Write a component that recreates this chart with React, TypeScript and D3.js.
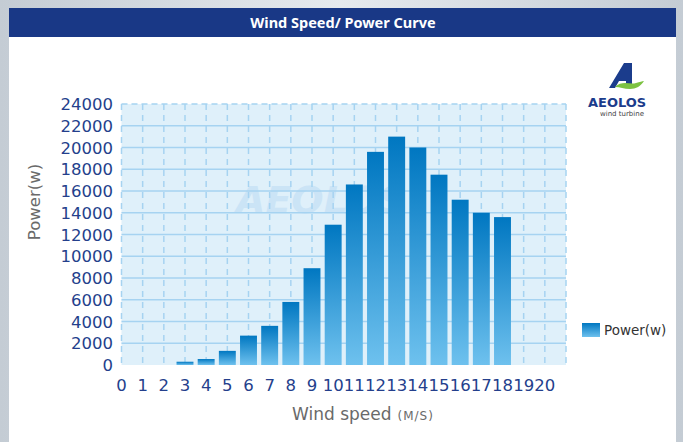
import React from 'react';
import * as d3 from 'd3';

// wind speed categories (m/s) and rated power output (w)
const speeds = [0, 1, 2, 3, 4, 5, 6, 7, 8, 9, 10, 11, 12, 13, 14, 15, 16, 17, 18, 19, 20];
const power = [0, 0, 0, 300, 550, 1300, 2700, 3600, 5800, 8900, 12900, 16600, 19600, 21000, 20000, 17500, 15200, 14000, 13600, 0, 0];
const yTicks = [0, 2000, 4000, 6000, 8000, 10000, 12000, 14000, 16000, 18000, 20000, 22000, 24000];

const W = 683;
const H = 442;
const FONT = '"DejaVu Sans", Verdana, sans-serif';

export default function App() {
  const x = d3.scaleLinear().domain([0, 21]).range([121.5, 566]);
  const y = d3.scaleLinear().domain([0, 24000]).range([365, 104]);
  const barW = (x(1) - x(0)) * 0.8;
  const gridX = d3.range(0, 22);
  const [x0, x1] = x.range();
  const [yb, yt] = y.range();

  return (
    <svg width={W} height={H} style={{ display: 'block', position: 'absolute', left: 0, top: 0 }}>
      <defs>
        <linearGradient id="frame" x1="0" y1="0" x2="1" y2="0">
          <stop offset="0" stopColor="#c4ccd4" />
          <stop offset="0.5" stopColor="#e6eaee" />
          <stop offset="1" stopColor="#c4ccd4" />
        </linearGradient>
        <linearGradient id="bar" x1="0" y1="0" x2="0" y2="1">
          <stop offset="0" stopColor="#0077c1" />
          <stop offset="1" stopColor="#6ec1ee" />
        </linearGradient>
      </defs>

      {/* frame + panel */}
      <rect x={0} y={0} width={W} height={H} fill="url(#frame)" />
      <rect x={9} y={8} width={667} height={H - 8} fill="#ffffff" />
      <rect x={9} y={8} width={667} height={29} fill="#193886" />
      <text x={343} y={28} textAnchor="middle" fill="#ffffff" fontFamily='"Noto Sans", sans-serif'
        fontWeight="bold" fontSize={14.5}>Wind Speed/ Power Curve</text>

      {/* logo */}
      <g>
        <polygon points="609,88 624,63 632,63 632,88 626,88 626,81 619,81 615,88" fill="#1b3c8c" />
        <path d="M615,87 C622,80 630,85 636,83 C640,82 642,81 644,81 C641,86 636,89 630,89 C624,89 620,87 615,87 Z" fill="#7cc242" />
        <text x={588} y={107} fill="#1b3c8c" fontFamily={FONT} fontWeight="bold" fontSize={13}>AEOLOS</text>
        <text x={600} y={116} fill="#444" fontFamily={FONT} fontSize={7}>wind turbine</text>
      </g>

      {/* plot area */}
      <rect x={x0} y={yt} width={x1 - x0} height={yb - yt} fill="#dff0fa" />
      <text x={236} y={213} fill="#cbe4f6" fontFamily={FONT} fontWeight="bold" fontStyle="italic"
        fontSize={38}>AEOLOS</text>
      {yTicks.slice(1, -1).map(t => (
        <line key={'h' + t} x1={x0} x2={x1} y1={y(t)} y2={y(t)} stroke="#a6d3f1" strokeWidth={1.5} />
      ))}
      <line x1={x0} x2={x1} y1={yt} y2={yt} stroke="#a6d3f1" strokeWidth={1.5} strokeDasharray="6,4" />
      {gridX.map(v => (
        <line key={'v' + v} x1={x(v)} x2={x(v)} y1={yt} y2={yb} stroke="#a6d3f1" strokeWidth={1.5}
          strokeDasharray="6,5" />
      ))}

      {/* bars */}
      {speeds.map((s, i) => power[i] > 0 && (
        <rect key={'b' + s} x={x(s) - barW / 2} y={y(power[i])} width={barW} height={yb - y(power[i])}
          fill="url(#bar)" />
      ))}

      {/* y axis labels */}
      {yTicks.map(t => (
        <text key={'yl' + t} x={113} y={y(t) + 6} textAnchor="end" fill="#243f8c" fontFamily={FONT}
          fontSize={16.5}>{t}</text>
      ))}
      {/* x axis labels */}
      {speeds.map(s => (
        <text key={'xl' + s} x={x(s)} y={391} textAnchor="middle" fill="#243f8c" fontFamily={FONT}
          fontSize={16.5}>{s}</text>
      ))}

      {/* axis titles */}
      <text transform="translate(40,202) rotate(-90)" textAnchor="middle" fill="#6a6a6a" fontFamily={FONT}
        fontSize={16.5}>Power(w)</text>
      <text x={292} y={420} fill="#6a6a6a" fontFamily={FONT} fontSize={17}>
        Wind speed<tspan dx={6} fontSize={12} letterSpacing={1}>(M/S)</tspan>
      </text>

      {/* legend */}
      <rect x={582} y={323} width={18} height={14} fill="url(#bar)" />
      <text x={604} y={335} fill="#333" fontFamily={FONT} fontSize={13.5}>Power(w)</text>
    </svg>
  );
}
